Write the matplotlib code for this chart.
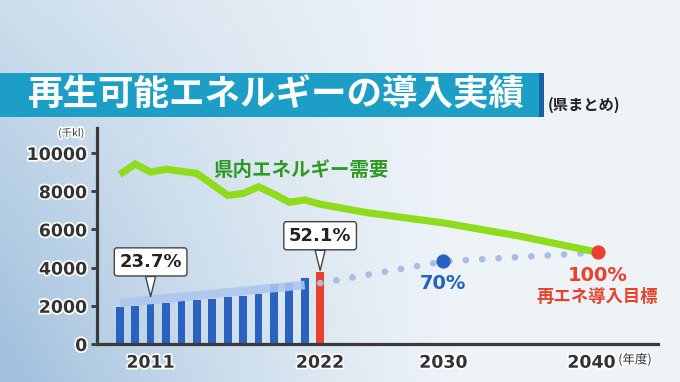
import numpy as np
import matplotlib
matplotlib.use("Agg")
import matplotlib.pyplot as plt
from matplotlib.patches import Rectangle
import matplotlib.transforms as mtransforms
import matplotlib.patheffects as pe

# ---------------- data ----------------
bar_years = [2009, 2010, 2011, 2012, 2013, 2014, 2015, 2016, 2017, 2018, 2019, 2020, 2021, 2022]
bar_values = [1930, 1990, 2070, 2160, 2230, 2290, 2370, 2450, 2530, 2610, 3130, 3190, 3480, 3770]
highlight_year = 2022

demand_years = [2009, 2010, 2011, 2012, 2013, 2014, 2015, 2016, 2017, 2018, 2019, 2020, 2021,
                2022, 2025, 2030, 2035, 2040]
demand_values = [8880, 9420, 9000, 9150, 9040, 8930, 8360, 7780, 7880, 8230, 7850, 7420, 7540,
                 7320, 6880, 6340, 5640, 4800]

trend_years = [2009, 2021]
trend_values = [2150, 3090]

target_years = [2022, 2030, 2040]
target_values = [3190, 4320, 4790]

callout_years = [2011, 2022]
callout_values = [2480, 3850]
callout_labels = ["23.7%", "52.1%"]

goal_2030_label = "70%"
goal_2040_label = "100%"
goal_2040_sub = "再エネ導入目標"

xtick_years = [2011, 2022, 2030, 2040]
ytick_values = [0, 2000, 4000, 6000, 8000, 10000]

title = "再生可能エネルギーの導入実績"
subtitle = "(県まとめ)"
demand_label = "県内エネルギー需要"
y_unit = "(千kl)"
x_unit = "(年度)"

JP = ["Noto Sans CJK JP", "DejaVu Sans"]
NUM = ["DejaVu Sans", "Noto Sans CJK JP"]
halo = [pe.withStroke(linewidth=2.5, foreground="white")]

# ---------------- figure ----------------
W, H = 680, 382
fig = plt.figure(figsize=(W / 100, H / 100), dpi=100)

# background gradient
bg = fig.add_axes([0, 0, 1, 1])
bg.axis("off")
gx, gy = np.meshgrid(np.linspace(0, 1, 170), np.linspace(0, 1, 96))
w = np.clip(1 - gx / 0.7, 0, 1) ** 1.3 * (0.42 + 0.58 * gy) + 0.06
w = np.clip(w, 0, 1)[..., None]
c_white = np.array([0.955, 0.968, 0.980])
c_blue = np.array([0.64, 0.76, 0.87])
img = c_white * (1 - w) + c_blue * w
bg.imshow(img, extent=[0, 1, 0, 1], aspect="auto", interpolation="bilinear")
bg.set_xlim(0, 1)
bg.set_ylim(0, 1)

# title banner
fig.patches.append(Rectangle((0, (H - 117.3) / H), 539 / W, 44.6 / H,
                             transform=fig.transFigure, fc="#1d9ec6", ec="none", zorder=2))
fig.patches.append(Rectangle((539 / W, (H - 117.3) / H), 4.5 / W, 44.6 / H,
                             transform=fig.transFigure, fc="#1762a8", ec="none", zorder=2))
fig.text(28 / W, (H - 95) / H, title, family=JP, fontweight="bold", fontsize=25.6,
         color="white", ha="left", va="center", zorder=3)
fig.text(548 / W, (H - 105) / H, subtitle, family=JP, fontweight="bold", fontsize=11,
         color="#222222", ha="left", va="center", zorder=3)

# main axes
left, right, bottom, top = 97, 658, 344, 128
ax = fig.add_axes([left / W, (H - bottom) / H, (right - left) / W, (bottom - top) / H])
ax.patch.set_alpha(0)
x0 = 2009 - 22.8 / 15.41
x1 = 2009 + (right - 119.8) / 15.41
ax.set_xlim(x0, x1)
ax.set_ylim(0, 10000 * (bottom - top) / 191)

for s in ["top", "right"]:
    ax.spines[s].set_visible(False)
for s in ["left", "bottom"]:
    ax.spines[s].set_color("#3a3a3a")
    ax.spines[s].set_linewidth(2.3)
    ax.spines[s].set_zorder(6)

# bars
bar_colors = ["#e8412c" if y == highlight_year else "#2a62c0" for y in bar_years]
ax.bar(bar_years, bar_values, width=0.5, color=bar_colors, zorder=2)

# trend band
ax.plot(trend_years, trend_values, color="#adc6ee", lw=6.3, alpha=0.88,
        solid_capstyle="butt", zorder=3)

# dotted target path
ax.plot(target_years, target_values, color="#a6bde6", lw=4.8,
        linestyle=(0, (0.01, 2.45)), dash_capstyle="round", zorder=4)

# demand line
ax.plot(demand_years, demand_values, color="#8fdc1c", lw=5.2, solid_joinstyle="miter",
        solid_capstyle="butt", zorder=4)

# goal dots
ax.scatter([target_years[1]], [target_values[1]], s=105, color="#2762c2", zorder=5, lw=0)
ax.scatter([target_years[2]], [demand_values[-1]], s=105, color="#ec4130", zorder=5, lw=0)

ax.annotate(goal_2030_label, xy=(target_years[1], target_values[1]), xytext=(0, -16),
            textcoords="offset points", ha="center", va="center", family=NUM,
            fontweight="bold", fontsize=14, color="#2762c2", zorder=6)
ax.annotate(goal_2040_label, xy=(target_years[2], demand_values[-1]), xytext=(0, -17),
            textcoords="offset points", ha="center", va="center", family=NUM,
            fontweight="bold", fontsize=14, color="#e8412c", zorder=6)
ax.annotate(goal_2040_sub, xy=(target_years[2], demand_values[-1]), xytext=(0, -32),
            textcoords="offset points", ha="center", va="center", family=JP,
            fontweight="bold", fontsize=12.5, color="#e8412c", zorder=6)

# demand label
ax.text(2015.05, 9110, demand_label, family=JP, fontweight="bold", fontsize=14,
        color="#2e9a22", ha="left", va="center", zorder=6)

# callouts
for yr, val, lab in zip(callout_years, callout_values, callout_labels):
    ax.annotate(lab, xy=(yr, val), xytext=(0, 25), textcoords="offset points",
                ha="center", va="center", family=NUM, fontweight="bold", fontsize=13,
                color="#222222", zorder=7,
                bbox=dict(boxstyle="round,pad=0.28,rounding_size=0.15", fc="white",
                          ec="#444444", lw=1),
                arrowprops=dict(arrowstyle="wedge,tail_width=0.55,shrink_factor=0.5",
                                fc="white", ec="#444444", lw=1, shrinkA=0, shrinkB=0))

# ticks
ax.set_yticks(ytick_values)
ax.set_yticklabels([str(v) for v in ytick_values], family=NUM, fontweight="bold",
                   fontsize=12.5, color="#333333")
ax.tick_params(axis="y", direction="out", length=4, width=2, color="#3a3a3a", pad=3)
ax.set_xticks(xtick_years)
ax.set_xticklabels([str(v) for v in xtick_years], family=NUM, fontweight="bold",
                   fontsize=12.5, color="#333333")
ax.tick_params(axis="x", length=0, pad=7)
for lab in ax.get_xticklabels() + ax.get_yticklabels():
    lab.set_path_effects(halo)
last = ax.get_xticklabels()[-1]
last.set_transform(last.get_transform() + mtransforms.ScaledTranslation(-6 / 100, 0, fig.dpi_scale_trans))

ax.text(-0.046, 0.977, y_unit, transform=ax.transAxes, family=JP, fontsize=7.5,
        color="#333333", ha="center", va="center", path_effects=halo)
fig.text(635 / W, (H - 360) / H, x_unit, family=JP, fontsize=9, color="#333333",
         ha="center", va="center", path_effects=halo)

fig.savefig("out.png", dpi=100)
